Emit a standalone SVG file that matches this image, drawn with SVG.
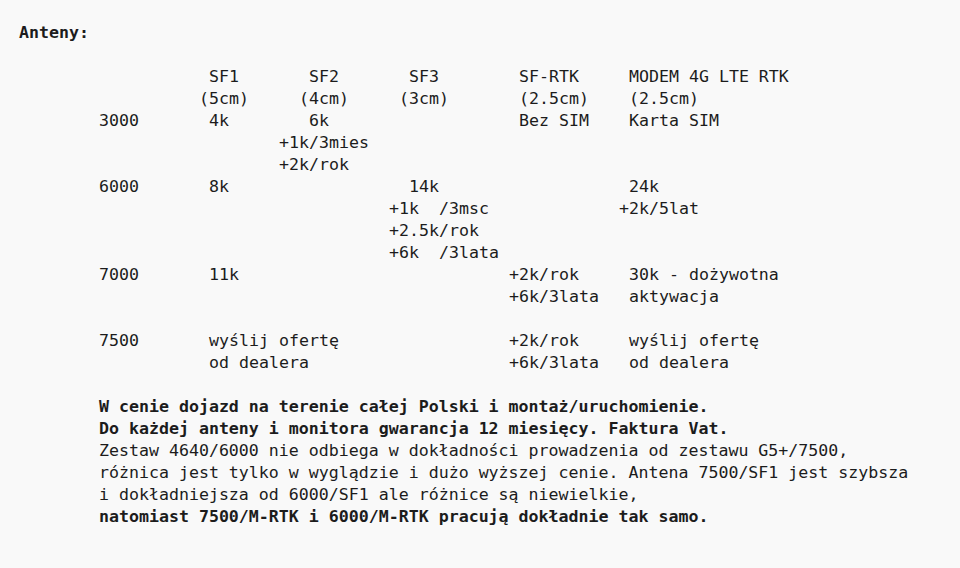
<svg xmlns="http://www.w3.org/2000/svg" width="960" height="568" viewBox="0 0 960 568">
<style>
text{font-family:"DejaVu Sans Mono","Liberation Mono",monospace;font-size:16.6px;fill:#1c1c1c;white-space:pre}
.b{font-weight:bold}
</style>
<rect width="960" height="568" fill="#f9f9f9"/>
<text class="b" x="19" y="38">Anteny:</text>
<g id="header">
<text x="209" y="82">SF1</text>
<text x="309" y="82">SF2</text>
<text x="409" y="82">SF3</text>
<text x="519" y="82">SF-RTK</text>
<text x="629" y="82">MODEM 4G LTE RTK</text>
<text x="199" y="104">(5cm)</text>
<text x="299" y="104">(4cm)</text>
<text x="399" y="104">(3cm)</text>
<text x="519" y="104">(2.5cm)</text>
<text x="629" y="104">(2.5cm)</text>
</g>
<g id="row3000">
<text x="99" y="126">3000</text>
<text x="209" y="126">4k</text>
<text x="309" y="126">6k</text>
<text x="519" y="126">Bez SIM</text>
<text x="629" y="126">Karta SIM</text>
<text x="279" y="148">+1k/3mies</text>
<text x="279" y="170">+2k/rok</text>
</g>
<g id="row6000">
<text x="99" y="192">6000</text>
<text x="209" y="192">8k</text>
<text x="409" y="192">14k</text>
<text x="629" y="192">24k</text>
<text x="389" y="214" xml:space="preserve">+1k  /3msc</text>
<text x="619" y="214">+2k/5lat</text>
<text x="389" y="236">+2.5k/rok</text>
<text x="389" y="258" xml:space="preserve">+6k  /3lata</text>
</g>
<g id="row7000">
<text x="99" y="280">7000</text>
<text x="209" y="280">11k</text>
<text x="509" y="280">+2k/rok</text>
<text x="629" y="280">30k - dożywotna</text>
<text x="509" y="302">+6k/3lata</text>
<text x="629" y="302">aktywacja</text>
</g>
<g id="row7500">
<text x="99" y="346">7500</text>
<text x="209" y="346">wyślij ofertę</text>
<text x="509" y="346">+2k/rok</text>
<text x="629" y="346">wyślij ofertę</text>
<text x="209" y="368">od dealera</text>
<text x="509" y="368">+6k/3lata</text>
<text x="629" y="368">od dealera</text>
</g>
<g id="notes">
<text class="b" x="99" y="412">W cenie dojazd na terenie całej Polski i montaż/uruchomienie.</text>
<text class="b" x="99" y="434">Do każdej anteny i monitora gwarancja 12 miesięcy. Faktura Vat.</text>
<text x="99" y="456">Zestaw 4640/6000 nie odbiega w dokładności prowadzenia od zestawu G5+/7500,</text>
<text x="99" y="478">różnica jest tylko w wyglądzie i dużo wyższej cenie. Antena 7500/SF1 jest szybsza</text>
<text x="99" y="500">i dokładniejsza od 6000/SF1 ale różnice są niewielkie,</text>
<text class="b" x="99" y="522">natomiast 7500/M-RTK i 6000/M-RTK pracują dokładnie tak samo.</text>
</g>
</svg>
